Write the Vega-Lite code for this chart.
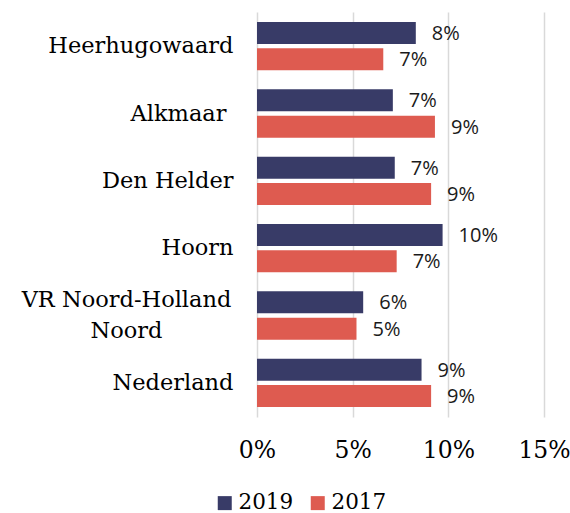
{
  "$schema": "https://vega.github.io/schema/vega-lite/v6.json",
  "width": 287,
  "height": 405,
  "autosize": "none",
  "padding": {"left": 257, "top": 12, "right": 26, "bottom": 96},
  "background": "white",
  "data": {
    "values": [
      {"region": "Heerhugowaard", "year": "2019", "value": 0.083},
      {"region": "Heerhugowaard", "year": "2017", "value": 0.066},
      {"region": "Alkmaar", "year": "2019", "value": 0.071},
      {"region": "Alkmaar", "year": "2017", "value": 0.093},
      {"region": "Den Helder", "year": "2019", "value": 0.072},
      {"region": "Den Helder", "year": "2017", "value": 0.091},
      {"region": "Hoorn", "year": "2019", "value": 0.097},
      {"region": "Hoorn", "year": "2017", "value": 0.073},
      {"region": "VR Noord-Holland Noord", "year": "2019", "value": 0.0555},
      {"region": "VR Noord-Holland Noord", "year": "2017", "value": 0.052},
      {"region": "Nederland", "year": "2019", "value": 0.086},
      {"region": "Nederland", "year": "2017", "value": 0.091}
    ]
  },
  "encoding": {
    "y": {
      "field": "region",
      "type": "nominal",
      "sort": ["Heerhugowaard", "Alkmaar", "Den Helder", "Hoorn", "VR Noord-Holland Noord", "Nederland"],
      "scale": {"paddingInner": 0.282, "paddingOuter": 0.149},
      "axis": {
        "title": null,
        "domain": false,
        "ticks": false,
        "labelFont": "DejaVu Serif",
        "labelFontSize": 22.5,
        "labelColor": "#000000",
        "labelLimit": 400,
        "labelLineHeight": 31,
        "labelExpr": "datum.value == 'VR Noord-Holland Noord' ? ['VR Noord-Holland', 'Noord'] : datum.value",
        "labelAlign": {"condition": {"test": "datum.value == 'VR Noord-Holland Noord'", "value": "center"}, "value": "right"},
        "labelOffset": {"condition": {"test": "datum.value == 'VR Noord-Holland Noord'", "value": -15}, "value": 0},
        "labelPadding": {"condition": [{"test": "datum.value == 'VR Noord-Holland Noord'", "value": 131}, {"test": "datum.value == 'Alkmaar'", "value": 31}], "value": 24}
      }
    },
    "yOffset": {
      "field": "year",
      "type": "nominal",
      "sort": ["2019", "2017"],
      "scale": {"paddingInner": 0.163, "paddingOuter": 0}
    },
    "x": {
      "field": "value",
      "type": "quantitative",
      "scale": {"domain": [0, 0.15]},
      "axis": {
        "title": null,
        "format": ".0%",
        "values": [0, 0.05, 0.1, 0.15],
        "domain": false,
        "ticks": false,
        "grid": true,
        "gridColor": "#d9d9d9",
        "gridWidth": 1.5,
        "labelFlush": false,
        "labelFont": "DejaVu Serif",
        "labelFontSize": 23.5,
        "labelColor": "#000000",
        "labelPadding": 21
      }
    }
  },
  "layer": [
    {
      "mark": {"type": "bar"},
      "encoding": {
        "color": {
          "field": "year",
          "type": "nominal",
          "sort": ["2019", "2017"],
          "scale": {"domain": ["2019", "2017"], "range": ["#383b67", "#de5b50"]},
          "legend": {
            "title": null,
            "orient": "none",
            "direction": "horizontal",
            "legendX": -43,
            "legendY": 480,
            "symbolType": "square",
            "symbolSize": 196,
            "symbolStrokeWidth": 0,
            "symbolOpacity": 1,
            "labelFont": "DejaVu Serif",
            "labelFontSize": 21.5,
            "labelColor": "#000000",
            "labelOffset": 3,
            "columnPadding": 13
          }
        }
      }
    },
    {
      "mark": {"type": "text", "align": "left", "baseline": "middle", "dx": 16, "dy": 1, "font": "Open Sans", "fontSize": 20, "color": "#1a1a1a"},
      "encoding": {
        "text": {"field": "value", "type": "quantitative", "format": ".0%"}
      }
    }
  ],
  "config": {"view": {"stroke": null}}
}
